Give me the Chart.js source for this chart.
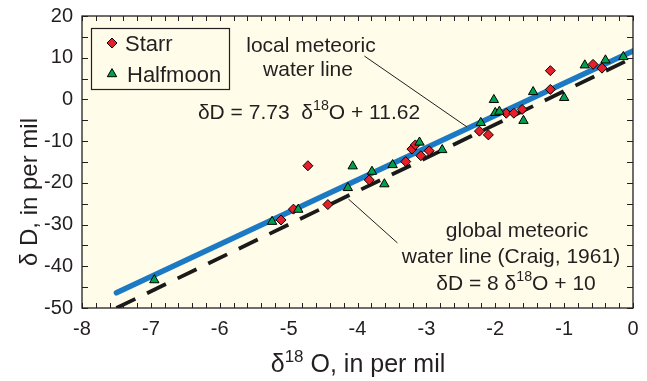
<!DOCTYPE html>
<html>
<head>
<meta charset="utf-8">
<script src="https://cdn.jsdelivr.net/npm/chart.js@4.4.1/dist/chart.umd.min.js"></script>
<style>
  html, body { margin: 0; padding: 0; background: #fff; }
  #wrap { width: 647px; height: 381px; }
</style>
</head>
<body>
<div id="wrap"><canvas id="isoChart"></canvas></div>
<script>
// Stable isotope samples (delta 18O vs delta D, per mil)
const starrX = [-5.11, -4.93, -4.72, -4.43, -3.83, -3.30, -3.21, -3.16, -3.08, -2.96, -2.23, -2.10, -1.84, -1.73, -1.61, -1.20, -1.20, -0.58, -0.45];
const starrY = [-28.9, -26.3, -15.9, -25.2, -19.3, -14.9, -11.9, -10.9, -13.5, -12.3, -7.6, -8.5, -3.3, -3.3, -2.4, 6.9, 2.4, 8.4, 7.5];

const halfmoonX = [-6.95, -5.24, -4.86, -4.14, -4.07, -3.79, -3.61, -3.49, -3.10, -2.77, -2.21, -2.02, -2.00, -1.94, -1.59, -1.45, -1.00, -0.70, -0.40, -0.14];
const halfmoonY = [-43.3, -29.3, -26.4, -21.2, -16.0, -17.3, -20.3, -15.7, -10.3, -12.1, -5.6, -0.1, -3.2, -2.9, -5.1, 1.8, 0.4, 8.2, 9.4, 10.2];

// end points of the two water lines
const localLineX = [-7.5, 0];
const localLineY = [-46.35, 11.62];
const globalLineX = [-7.5, 0];
const globalLineY = [-50, 10];

// tick labels
const xTickValues = [-8, -7, -6, -5, -4, -3, -2, -1, 0];
const yTickValues = [-50, -40, -30, -20, -10, 0, 10, 20];

const FONT = '"Liberation Sans", Arial, Helvetica, sans-serif';
const INK = '#231f20';
const RED = '#e6202a';
const GREEN = '#00a14e';
const BLUE = '#1c7ac4';

const toPoints = (xs, ys) => xs.map((x, i) => ({ x: x, y: ys[i] }));

// text with superscript parts
function richText(ctx, parts, x, y, size, align) {
    let w = 0;
    parts.forEach(p => {
        ctx.font = (p.sup ? size * 0.68 : size) + 'px ' + FONT;
        w += ctx.measureText(p.t).width;
    });
    let cx = align === 'center' ? x - w / 2 : x;
    ctx.textAlign = 'left';
    ctx.textBaseline = 'alphabetic';
    parts.forEach(p => {
        const s = p.sup ? size * 0.68 : size;
        ctx.font = s + 'px ' + FONT;
        ctx.fillText(p.t, cx, p.sup ? y - size * 0.42 : y);
        cx += ctx.measureText(p.t).width;
    });
}

const decorPlugin = {
    id: 'decor',
    beforeDraw(chart) {
        const { ctx, chartArea: a } = chart;
        ctx.save();
        ctx.fillStyle = '#fffce9';
        ctx.fillRect(a.left, a.top, a.right - a.left, a.bottom - a.top);
        ctx.restore();
    },
    afterDraw(chart) {
        const { ctx, chartArea: a, scales } = chart;
        const xs = scales.x, ys = scales.y;
        ctx.save();

        // frame and inward ticks on all four sides
        ctx.strokeStyle = INK;
        ctx.lineWidth = 1.3;
        ctx.strokeRect(a.left, a.top, a.right - a.left, a.bottom - a.top);
        ctx.lineWidth = 1;
        ctx.beginPath();
        for (let i = 0; i <= 40; i++) {
            const px = Math.round(xs.getPixelForValue(-8 + i * 0.2)) + 0.5;
            ctx.moveTo(px, a.bottom); ctx.lineTo(px, a.bottom - 5);
            ctx.moveTo(px, a.top); ctx.lineTo(px, a.top + 5);
        }
        for (let v = -50; v <= 20; v += 5) {
            const py = Math.round(ys.getPixelForValue(v)) + 0.5;
            ctx.moveTo(a.left, py); ctx.lineTo(a.left + 6, py);
            ctx.moveTo(a.right, py); ctx.lineTo(a.right - 6, py);
        }
        ctx.stroke();

        // leader lines
        ctx.lineWidth = 1;
        ctx.beginPath();
        ctx.moveTo(xs.getPixelForValue(-3.90), ys.getPixelForValue(10.4));
        ctx.lineTo(xs.getPixelForValue(-2.41), ys.getPixelForValue(-6.6));
        ctx.moveTo(xs.getPixelForValue(-4.13), ys.getPixelForValue(-23.9));
        ctx.lineTo(xs.getPixelForValue(-3.42), ys.getPixelForValue(-34.4));
        ctx.stroke();

        // annotations
        ctx.fillStyle = INK;
        richText(ctx, [{ t: 'local meteoric' }], 311, 52, 21, 'center');
        richText(ctx, [{ t: 'water line' }], 308, 76, 21, 'center');
        richText(ctx, [{ t: '\u03b4D = 7.73  \u03b4' }, { t: '18', sup: true }, { t: 'O + 11.62' }], 309, 119, 21, 'center');
        richText(ctx, [{ t: 'global meteoric' }], 517, 237, 21, 'center');
        richText(ctx, [{ t: 'water line (Craig, 1961)' }], 511, 263, 21, 'center');
        richText(ctx, [{ t: '\u03b4D = 8 \u03b4' }, { t: '18', sup: true }, { t: 'O + 10' }], 516, 290, 21, 'center');

        // legend
        ctx.fillStyle = '#fffce9';
        ctx.fillRect(91.5, 28.5, 138, 61);
        ctx.strokeStyle = INK;
        ctx.lineWidth = 1.2;
        ctx.strokeRect(91.5, 28.5, 138, 61);
        ctx.lineWidth = 1;
        ctx.strokeStyle = '#000';
        ctx.fillStyle = RED;
        Chart.helpers.drawPoint(ctx, { pointStyle: 'rectRot', radius: 5, rotation: 0, borderWidth: 1 }, 112, 43);
        ctx.fillStyle = GREEN;
        Chart.helpers.drawPoint(ctx, { pointStyle: 'triangle', radius: 5.4, rotation: 0, borderWidth: 1 }, 112, 74);
        ctx.fillStyle = INK;
        richText(ctx, [{ t: 'Starr' }], 125, 51, 22, 'left');
        richText(ctx, [{ t: 'Halfmoon' }], 127, 82, 22, 'left');

        // axis titles
        richText(ctx, [{ t: '\u03b4' }, { t: '18', sup: true }, { t: ' O, in per mil' }], 358, 372, 25, 'center');
        ctx.translate(37, 192);
        ctx.rotate(-Math.PI / 2);
        richText(ctx, [{ t: '\u03b4 D, in per mil' }], 0, 0, 24, 'center');
        ctx.restore();
    }
};

const ctx = document.getElementById('isoChart').getContext('2d');

new Chart(ctx, {
    type: 'scatter',
    data: {
        datasets: [
            {
                label: 'Halfmoon',
                data: toPoints(halfmoonX, halfmoonY),
                pointStyle: 'triangle',
                pointRadius: 5.4,
                backgroundColor: GREEN,
                borderColor: '#000',
                borderWidth: 1,
                order: 0
            },
            {
                label: 'Starr',
                data: toPoints(starrX, starrY),
                pointStyle: 'rectRot',
                pointRadius: 5,
                backgroundColor: RED,
                borderColor: '#000',
                borderWidth: 1,
                order: 1
            },
            {
                label: 'local meteoric water line',
                data: toPoints(localLineX, localLineY),
                showLine: true,
                pointRadius: 0,
                borderColor: BLUE,
                borderWidth: 5.5,
                borderCapStyle: 'round',
                order: 2
            },
            {
                label: 'global meteoric water line',
                data: toPoints(globalLineX, globalLineY),
                showLine: true,
                pointRadius: 0,
                borderColor: '#1a1a1a',
                borderWidth: 3.8,
                borderDash: [21, 13],
                order: 3
            }
        ]
    },
    options: {
        responsive: true,
        maintainAspectRatio: false,
        animation: false,
        layout: { padding: { left: 0, right: 14, top: 16, bottom: 0 } },
        plugins: {
            legend: { display: false },
            tooltip: { enabled: false }
        },
        scales: {
            x: {
                type: 'linear',
                min: -8,
                max: 0,
                afterBuildTicks: s => { s.ticks = xTickValues.map(v => ({ value: v })); },
                afterFit: s => { s.height = 73; s.paddingLeft = 0; s.paddingRight = 0; },
                grid: { display: false, drawTicks: false },
                border: { display: false },
                ticks: { color: INK, font: { family: FONT, size: 20 }, padding: 9, maxRotation: 0 }
            },
            y: {
                type: 'linear',
                min: -50,
                max: 20,
                afterBuildTicks: s => { s.ticks = yTickValues.map(v => ({ value: v })); },
                afterFit: s => { s.width = 82; s.paddingTop = 0; s.paddingBottom = 0; },
                grid: { display: false, drawTicks: false },
                border: { display: false },
                ticks: { color: INK, font: { family: FONT, size: 20 }, padding: 9 }
            }
        }
    },
    plugins: [decorPlugin]
});
</script>
</body>
</html>
